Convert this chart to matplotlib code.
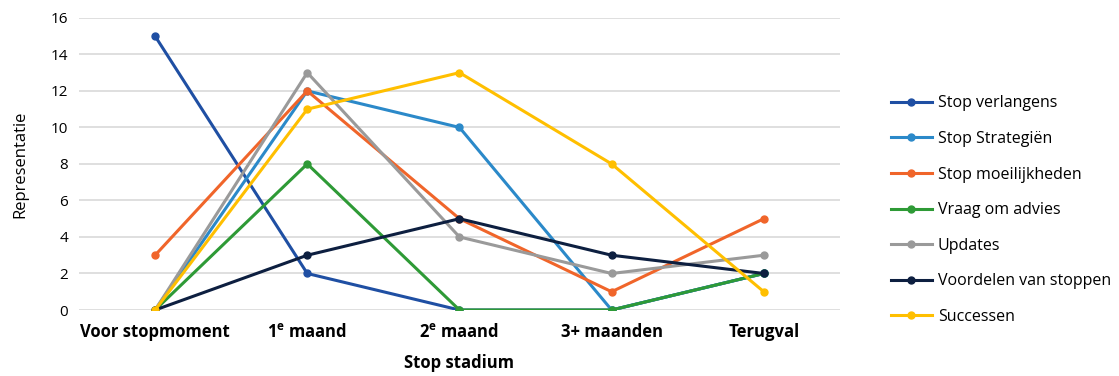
import matplotlib
matplotlib.use("Agg")
import matplotlib.pyplot as plt
from matplotlib.lines import Line2D

categories = ["Voor stopmoment", "1$^{\\mathregular{e}}$ maand", "2$^{\\mathregular{e}}$ maand", "3+ maanden", "Terugval"]
series_names = ["Stop verlangens", "Stop Strategiën", "Stop moeilijkheden", "Vraag om advies",
                "Updates", "Voordelen van stoppen", "Successen"]
stop_verlangens = [15, 2, 0, 0, 2]
stop_strategien = [0, 12, 10, 0, 2]
stop_moeilijkheden = [3, 12, 5, 1, 5]
vraag_om_advies = [0, 8, 0, 0, 2]
updates = [0, 13, 4, 2, 3]
voordelen = [0, 3, 5, 3, 2]
successen = [0, 11, 13, 8, 1]
yticks = [0, 2, 4, 6, 8, 10, 12, 14, 16]

colors = ["#1f4fa3", "#2b89c9", "#f0652a", "#2e9a36", "#9a9a9a", "#0d1f40", "#ffbf00"]
all_series = [stop_verlangens, stop_strategien, stop_moeilijkheden, vraag_om_advies,
              updates, voordelen, successen]

plt.rcParams['font.family'] = ['Open Sans', 'DejaVu Sans']

fig = plt.figure(figsize=(11.19, 3.76), dpi=100)
ax = fig.add_axes([0.0706, 0.1755, 0.68, 0.777])

x = list(range(len(categories)))
handles = []
for name, vals, c in zip(series_names, all_series, colors):
    ax.plot(x, vals, color=c, lw=2.2, marker='o', ms=5, mfc=c, mec=c, label=name)
    handles.append(Line2D([0], [0], color=c, lw=2.2, marker='o', ms=5, mfc=c, mec=c))

ax.set_xlim(-0.5, 4.5)
ax.set_ylim(0, 16)
ax.set_yticks(yticks)
ax.set_xticks(x)
ax.set_xticklabels(categories, fontsize=12, fontweight='bold')
ax.tick_params(axis='y', labelsize=11, length=0, pad=8)
ax.tick_params(axis='x', length=0, pad=9)
ax.grid(axis='y', color='#d9d9d9', lw=1.2)
ax.set_axisbelow(True)
for s in ax.spines.values():
    s.set_visible(False)
ax.set_ylabel("Representatie", fontsize=12, labelpad=16)
ax.set_xlabel("Stop stadium", fontsize=12, fontweight='bold', labelpad=10)

fig.legend(handles, series_names, loc='upper left', bbox_to_anchor=(0.783, 0.785),
           frameon=False, fontsize=11.5, handlelength=2.6, labelspacing=1.23,
           handletextpad=0.35)

fig.savefig("out.png", dpi=100)
